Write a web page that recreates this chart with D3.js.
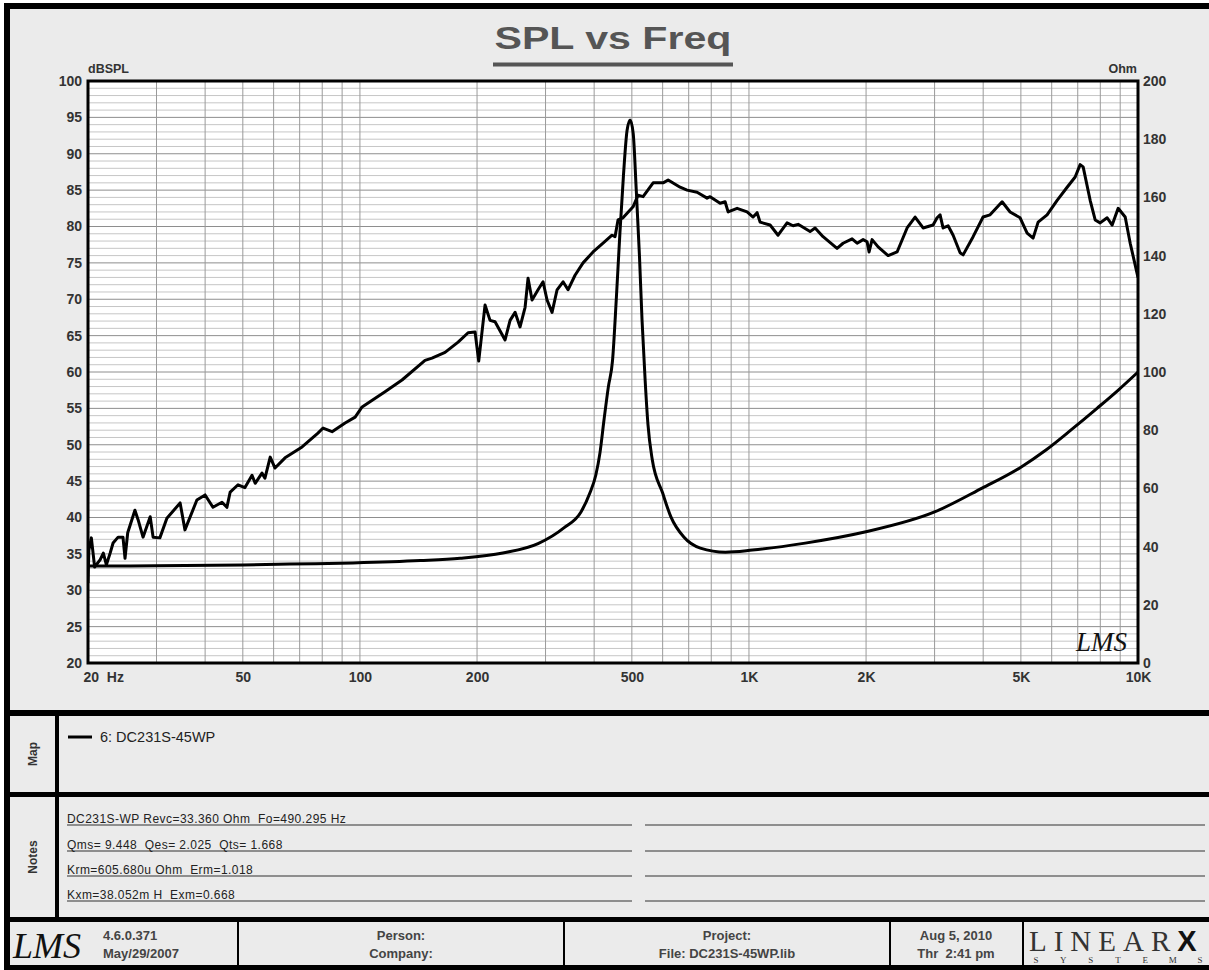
<!DOCTYPE html>
<html>
<head>
<meta charset="utf-8">
<script src="https://cdn.jsdelivr.net/npm/d3@7"></script>
<style>
  body { margin: 0; background: #fff; }
  svg { display: block; }
</style>
</head>
<body>
<div id="chart"></div>
<script>
const W = 1209, H = 970;
const plot = { left: 88, right: 1138, top: 81, bottom: 663 };

// --- Data ---
const splPoints = [
  [20,31],[20.1,35.5],[20.4,37.2],[20.8,33.2],[21.5,34.2],[21.9,35.1],[22.3,33.5],[22.8,35.1],
  [23.2,36.5],[23.9,37.3],[24.6,37.3],[24.9,34.4],[25.3,37.9],[26.4,41.0],[26.9,39.7],[27.7,37.3],
  [28.9,40.1],[29.4,37.3],[30.6,37.2],[31.9,39.9],[34.5,42.0],[35.5,38.3],[38.1,42.4],[40,43.1],
  [41.9,41.4],[44.2,42.1],[45.5,41.4],[46.4,43.5],[48.6,44.5],[50.6,44.1],[52.8,45.8],[53.8,44.7],
  [56,46.1],[57,45.4],[58.8,48.3],[60.5,46.8],[64.2,48.2],[71,49.7],[78,51.6],[80.4,52.3],
  [84.8,51.8],[91.6,53.0],[97.2,53.8],[101.3,55.2],[116,57.3],[128.3,58.9],[147,61.6],[153.2,61.9],
  [165.5,62.7],[178.8,64.1],[189.7,65.4],[197.7,65.5],[202,61.5],[209.7,69.2],[216,67.1],[222.5,66.9],
  [236.1,64.4],[243.2,67.1],[250.5,68.2],[258,66.2],[265.8,68.9],[270.5,72.9],[277,69.9],[287,71.3],
  [295.6,72.4],[302.7,69.9],[311.8,68.2],[321.2,71.3],[332.8,72.4],[342.7,71.3],[357.2,73.3],[374.6,75.0],
  [397.4,76.5],[421.6,77.7],[444.6,78.8],[452.6,78.6],[460.7,80.9],[474.5,81.2],[503.6,82.7],[518.8,84.3],
  [534.3,84.1],[567.1,86.0],[601.7,86.0],[619.8,86.4],[665.3,85.4],[693.3,85.0],[735.6,84.7],[780.5,83.9],
  [794.5,84.1],[843,83.2],[868.3,83.4],[883.9,82.0],[932.2,82.5],[989,82.0],[1024.7,81.3],[1049.3,81.9],
  [1068.1,80.6],[1133.2,80.2],[1188,78.8],[1253,80.5],[1298.4,80.1],[1337.6,80.3],[1435.7,79.3],[1478.9,79.8],
  [1550.6,78.6],[1684.3,77.0],[1745.3,77.7],[1841,78.3],[1896.6,77.7],[1965,78.2],[2012,77.9],[2036,76.5],
  [2072.7,78.2],[2147.6,77.2],[2278.5,76.0],[2403,76.5],[2549.5,79.8],[2673.4,81.3],[2802.8,79.8],[2973.5,80.2],
  [3044.8,81.2],[3099.3,81.6],[3154.7,79.8],[3250,80.1],[3348,78.8],[3489,76.4],[3552,76.1],[3768.5,78.6],
  [3997.6,81.3],[4166.5,81.6],[4474,83.4],[4690.5,82.0],[4977,81.2],[5188,79.1],[5375,78.4],[5537,80.6],
  [5838,81.6],[6196,83.6],[6574,85.4],[6894,86.8],[7101,88.5],[7228,88.2],[7534,83.6],[7761,80.9],
  [7993,80.5],[8331,81.2],[8582,80.2],[8892,82.5],[9270,81.3],[9549,77.7],[10000,73.0]
];

const impPoints = [
  [20,33.3],[30,33.4],[50,33.7],[66,34.0],[96,34.4],[143,35.2],[181,36.0],[233,37.8],
  [287,41.0],[335,46.5],[370,51.9],[390,58.4],[404,64.6],[414,72.2],[424,83.5],[435,94.8],
  [446,104],[456,125],[466,148],[476,168],[486,183],[495,186.6],[504,182],[513,163],
  [523,140],[531,118],[541,97],[550,82],[564,70],[600,58.4],[630,50.2],[680,43.3],
  [750,39.5],[870,38.1],[1020,38.8],[1395,41.2],[1985,45.0],[3000,51.9],[3975,60.1],[5000,67.3],
  [5800,73.2],[6730,80.1],[7860,87.6],[8900,93.8],[10000,100]
];

const freqTicks = [20, 50, 100, 200, 500, 1000, 2000, 5000, 10000];
const freqLabels = ["20  Hz", "50", "100", "200", "500", "1K", "2K", "5K", "10K"];
const dbTicks = [20, 25, 30, 35, 40, 45, 50, 55, 60, 65, 70, 75, 80, 85, 90, 95, 100];
const ohmTicks = [0, 20, 40, 60, 80, 100, 120, 140, 160, 180, 200];

const legendLabel = "6: DC231S-45WP";
const notesLines = [
  "DC231S-WP Revc=33.360 Ohm  Fo=490.295 Hz",
  "Qms= 9.448  Qes= 2.025  Qts= 1.668",
  "Krm=605.680u Ohm  Erm=1.018",
  "Kxm=38.052m H  Exm=0.668"
];
const footerVersion = ["4.6.0.371", "May/29/2007"];
const footerPerson = ["Person:", "Company:"];
const footerProject = ["Project:", "File: DC231S-45WP.lib"];
const footerDate = ["Aug 5, 2010", "Thr  2:41 pm"];
const logoSub = ["S", "Y", "S", "T", "E", "M", "S"];

const SANS = "'Liberation Sans', Arial, sans-serif";
const SERIF = "'Liberation Serif', 'DejaVu Serif', serif";

// --- Scales ---
const x = d3.scaleLog().domain([20, 10000]).range([plot.left, plot.right]);
const yL = d3.scaleLinear().domain([20, 100]).range([plot.bottom, plot.top]);
const yR = d3.scaleLinear().domain([0, 200]).range([plot.bottom, plot.top]);

const svg = d3.select("#chart").append("svg").attr("width", W).attr("height", H)
  .attr("font-family", SANS);

// --- Frame ---
svg.append("rect").attr("x", 4).attr("y", 3).attr("width", W - 4).attr("height", H - 3).attr("fill", "#ebebeb");
const bars = [[4, 3, W - 4, 6], [4, 3, 6, H - 3], [4, 710, W - 4, 6], [4, 792, W - 4, 5],
              [4, 917, W - 4, 5], [4, 965, W - 4, 5], [55, 716, 4, 201]];
svg.selectAll("rect.bar").data(bars).join("rect").attr("class", "bar")
  .attr("x", d => d[0]).attr("y", d => d[1]).attr("width", d => d[2]).attr("height", d => d[3])
  .attr("fill", "#000");
svg.selectAll("line.fdiv").data([238, 564, 890, 1023]).join("line").attr("class", "fdiv")
  .attr("x1", d => d).attr("x2", d => d).attr("y1", 922).attr("y2", 965)
  .attr("stroke", "#000").attr("stroke-width", 2);

// --- Title ---
svg.append("text").attr("x", 613).attr("y", 49).attr("text-anchor", "middle")
  .attr("font-size", 31).attr("font-weight", "bold").attr("fill", "#555")
  .attr("textLength", 237).attr("lengthAdjust", "spacingAndGlyphs").text("SPL vs Freq");
svg.append("line").attr("x1", 493).attr("x2", 733).attr("y1", 64.5).attr("y2", 64.5)
  .attr("stroke", "#555").attr("stroke-width", 4);

// --- Plot area + grid ---
svg.append("rect").attr("x", plot.left).attr("y", plot.top)
  .attr("width", plot.right - plot.left).attr("height", plot.bottom - plot.top).attr("fill", "#fff");

const grid = svg.append("g");
grid.selectAll("line.hmin").data(d3.range(21, 100).filter(v => v % 5)).join("line").attr("class", "hmin")
  .attr("x1", plot.left).attr("x2", plot.right).attr("y1", d => yL(d)).attr("y2", d => yL(d))
  .attr("stroke", "#c6c6c6").attr("stroke-width", 1);
grid.selectAll("line.hmaj").data(dbTicks.slice(1, -1)).join("line").attr("class", "hmaj")
  .attr("x1", plot.left).attr("x2", plot.right).attr("y1", d => yL(d)).attr("y2", d => yL(d))
  .attr("stroke", "#8e8e8e").attr("stroke-width", 1);
grid.selectAll("line.v").data(x.ticks().slice(1, -1)).join("line").attr("class", "v")
  .attr("x1", d => x(d)).attr("x2", d => x(d)).attr("y1", plot.top).attr("y2", plot.bottom)
  .attr("stroke", "#9a9a9a").attr("stroke-width", 1);

svg.append("clipPath").attr("id", "clip").append("rect")
  .attr("x", plot.left).attr("y", plot.top)
  .attr("width", plot.right - plot.left).attr("height", plot.bottom - plot.top);

const curves = svg.append("g").attr("clip-path", "url(#clip)");
curves.append("path").datum(impPoints)
  .attr("d", d3.line().x(d => x(d[0])).y(d => yR(d[1])).curve(d3.curveMonotoneX))
  .attr("fill", "none").attr("stroke", "#000").attr("stroke-width", 3).attr("stroke-linejoin", "round");
curves.append("path").datum(splPoints)
  .attr("d", d3.line().x(d => x(d[0])).y(d => yL(d[1])))
  .attr("fill", "none").attr("stroke", "#000").attr("stroke-width", 3).attr("stroke-linejoin", "round");

svg.append("rect").attr("x", plot.left).attr("y", plot.top)
  .attr("width", plot.right - plot.left).attr("height", plot.bottom - plot.top)
  .attr("fill", "none").attr("stroke", "#000").attr("stroke-width", 3);

// LMS watermark
svg.append("text").attr("x", 1076).attr("y", 651)
  .attr("font-family", SERIF).attr("font-style", "italic")
  .attr("font-size", 27).attr("fill", "#111").text("LMS");

// --- Axes ---
function styleAxis(g) {
  g.select(".domain").remove();
  g.selectAll("text").attr("font-size", 14).attr("font-weight", "bold")
    .attr("fill", "#333").attr("font-family", SANS);
}
svg.append("g").attr("transform", `translate(${plot.left},0)`)
  .call(d3.axisLeft(yL).tickValues(dbTicks).tickSize(0).tickPadding(6))
  .call(styleAxis);
svg.append("g").attr("transform", `translate(${plot.right},0)`)
  .call(d3.axisRight(yR).tickValues(ohmTicks).tickSize(0).tickPadding(5))
  .call(styleAxis);
const xAxis = svg.append("g").attr("transform", `translate(0,${plot.bottom})`)
  .call(d3.axisBottom(x).tickValues(freqTicks).tickSize(0).tickPadding(9)
    .tickFormat((d, i) => freqLabels[i]))
  .call(styleAxis);
xAxis.selectAll("text").filter((d, i) => i === 0)
  .attr("text-anchor", "start").attr("dx", -5).style("white-space", "pre");

svg.append("text").attr("x", plot.left).attr("y", 73).attr("font-size", 12.5).attr("font-weight", "bold")
  .attr("fill", "#333").text("dBSPL");
svg.append("text").attr("x", plot.right - 1).attr("y", 73).attr("text-anchor", "end")
  .attr("font-size", 12.5).attr("font-weight", "bold").attr("fill", "#333").text("Ohm");

// --- Map row ---
svg.append("text").attr("transform", "translate(37,754) rotate(-90)").attr("text-anchor", "middle")
  .attr("font-size", 12).attr("font-weight", "bold").attr("fill", "#333").text("Map");
svg.append("line").attr("x1", 68).attr("x2", 92).attr("y1", 737).attr("y2", 737)
  .attr("stroke", "#000").attr("stroke-width", 3);
svg.append("text").attr("x", 100).attr("y", 742).attr("font-size", 14.5).attr("fill", "#222").text(legendLabel);

// --- Notes row ---
svg.append("text").attr("transform", "translate(37,857) rotate(-90)").attr("text-anchor", "middle")
  .attr("font-size", 12).attr("font-weight", "bold").attr("fill", "#333").text("Notes");
const noteY = [825, 851, 876, 901];
svg.selectAll("line.nl").data(noteY).join("line").attr("class", "nl")
  .attr("x1", 67).attr("x2", 632).attr("y1", d => d).attr("y2", d => d)
  .attr("stroke", "#333").attr("stroke-width", 1.2);
svg.selectAll("line.nr").data(noteY).join("line").attr("class", "nr")
  .attr("x1", 645).attr("x2", 1205).attr("y1", d => d).attr("y2", d => d)
  .attr("stroke", "#333").attr("stroke-width", 1.2);
svg.selectAll("text.note").data(notesLines).join("text").attr("class", "note")
  .attr("x", 67).attr("y", (d, i) => noteY[i] - 2).attr("font-size", 12).attr("fill", "#222")
  .attr("letter-spacing", 0.45).style("white-space", "pre").text(d => d);

// --- Footer ---
svg.append("text").attr("x", 13).attr("y", 958)
  .attr("font-family", SERIF).attr("font-style", "italic")
  .attr("font-size", 36).attr("fill", "#111").text("LMS");
function footerCell(lines, cx, anchor) {
  svg.selectAll(null).data(lines).join("text")
    .attr("x", cx).attr("y", (d, i) => 940 + i * 18).attr("text-anchor", anchor)
    .attr("font-size", 13).attr("font-weight", "bold").attr("fill", "#444")
    .style("white-space", "pre").text(d => d);
}
footerCell(footerVersion, 103, "start");
footerCell(footerPerson, 401, "middle");
footerCell(footerProject, 727, "middle");
footerCell(footerDate, 956, "middle");

const logo = svg.append("text").attr("x", 1029).attr("y", 951)
  .attr("font-family", SERIF).attr("font-size", 29)
  .attr("fill", "#333").attr("letter-spacing", 7);
logo.append("tspan").text("LINEAR");
logo.append("tspan").attr("font-weight", "bold").attr("font-family", SANS).attr("fill", "#111").text("X");
const subX = d3.scalePoint().domain(d3.range(logoSub.length)).range([1036, 1200]);
svg.selectAll("text.sub").data(logoSub).join("text").attr("class", "sub")
  .attr("x", (d, i) => subX(i)).attr("y", 963).attr("text-anchor", "middle")
  .attr("font-family", SERIF).attr("font-size", 9).attr("fill", "#333").text(d => d);
</script>
</body>
</html>
